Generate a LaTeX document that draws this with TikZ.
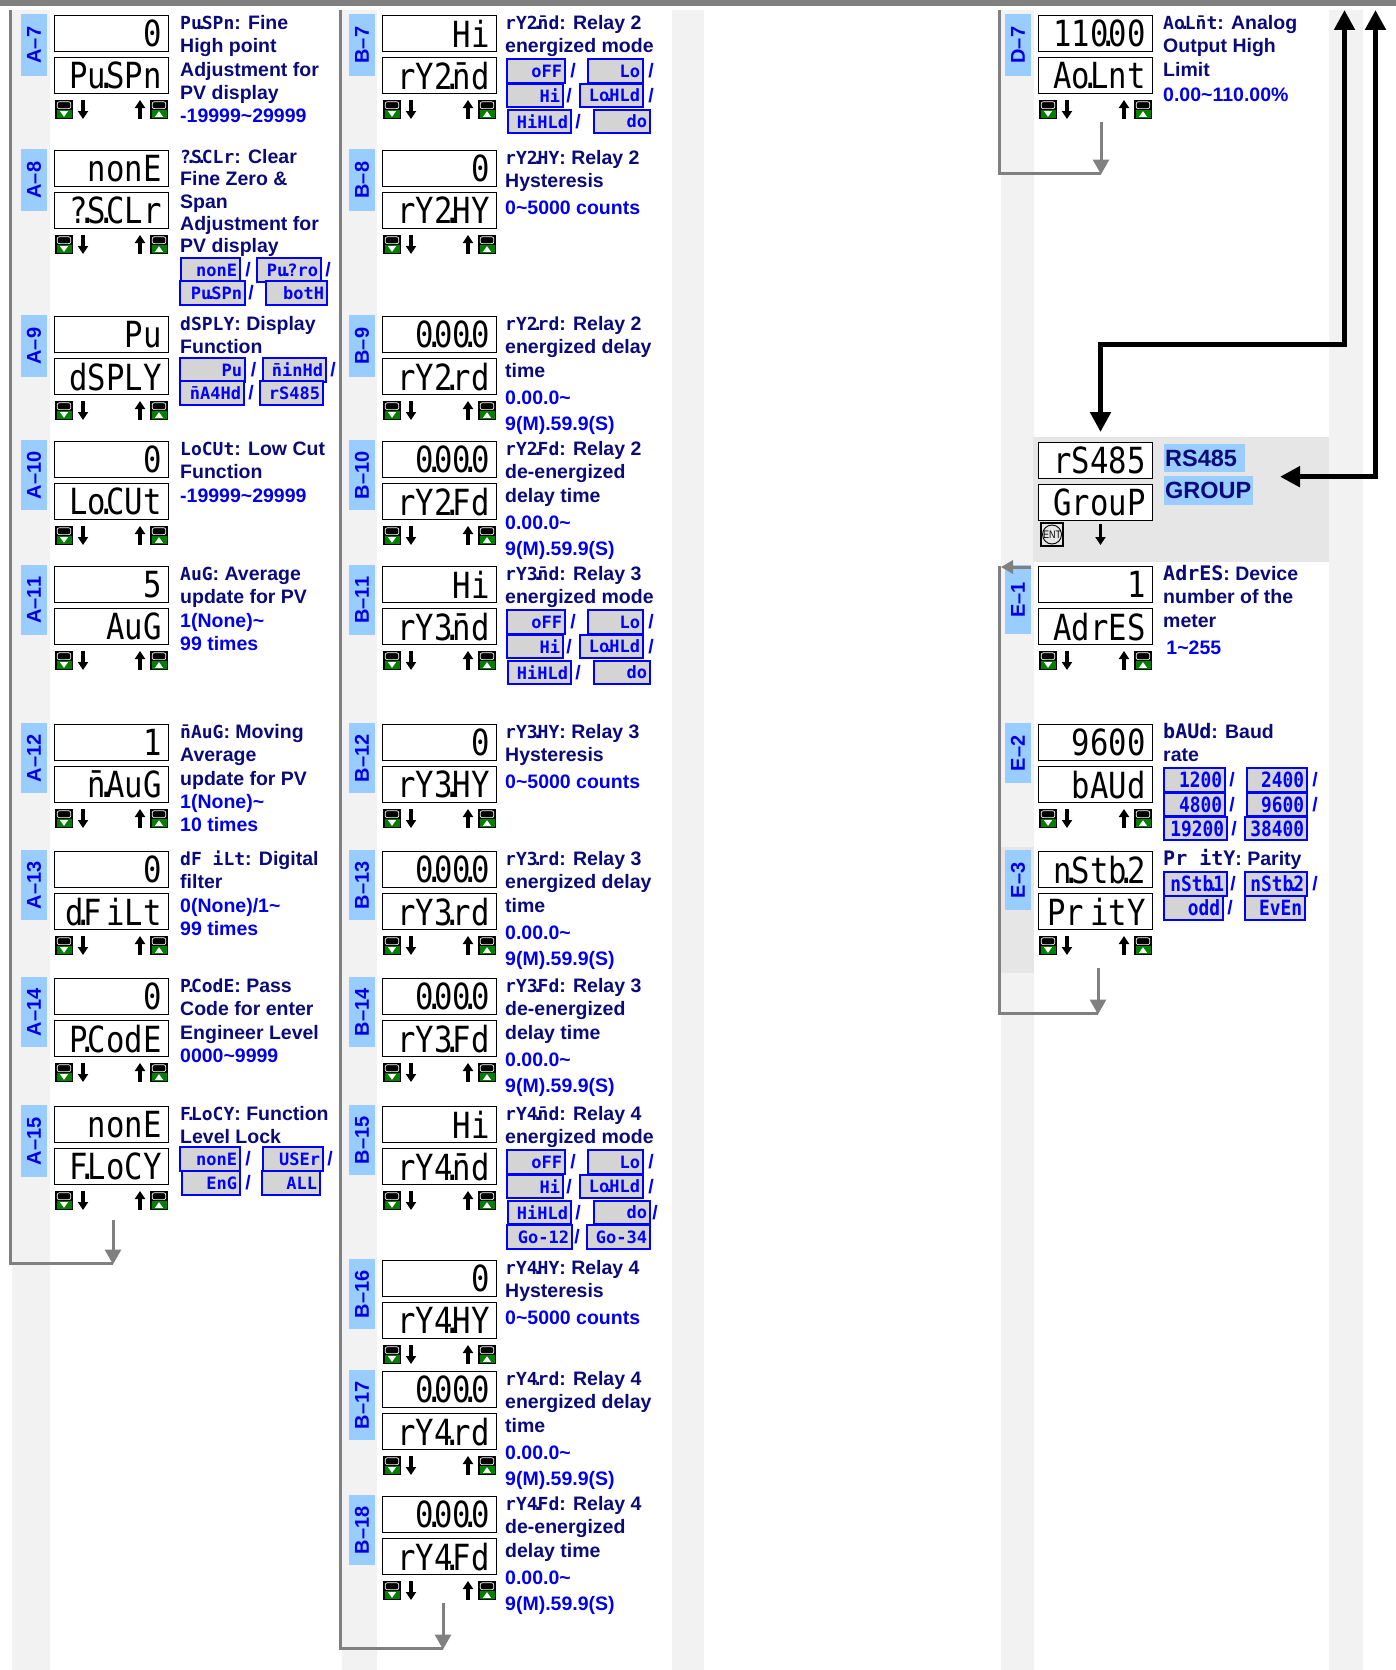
\documentclass[tikz,border=0pt]{standalone}
\usepackage{fontspec}
\setmainfont{Liberation Sans}
\newfontfamily\segfont[FakeStretch=0.85]{DejaVu Sans Mono}
\newfontfamily\segfontb{DejaVu Sans Mono}
\usetikzlibrary{arrows.meta}
\definecolor{titlenavy}{RGB}{10,10,120}
\definecolor{rngblue}{RGB}{0,0,235}
\definecolor{lblblue}{RGB}{153,204,255}
\definecolor{lblink}{RGB}{0,0,230}
\definecolor{stripgray}{RGB}{242,242,242}
\definecolor{grpgray}{RGB}{230,230,230}
\definecolor{loopgray}{RGB}{128,128,128}
\definecolor{optgray}{RGB}{212,212,212}
\definecolor{icongreen}{RGB}{0,128,0}
\newcommand\sd{\makebox[0pt]{.}}
\newcommand\st[1]{{\segfontb\bfseries\fontsize{18}{23.3}\selectfont #1}}
\newcommand\stE[1]{{\segfontb\bfseries\fontsize{20}{23.3}\selectfont #1}}
\newcommand\rg[1]{\textcolor{rngblue}{#1}}
\tikzset{
  disp/.style={draw=black, line width=1.2pt, fill=white, anchor=north west, minimum height=36pt, text width=100pt, inner xsep=7pt, inner ysep=0pt, align=right, font=\segfont\fontsize{36}{36}\selectfont},
  lbl/.style={fill=lblblue, text=lblink, rotate=90, anchor=east, minimum height=26pt, inner sep=1pt, font=\bfseries\fontsize{20}{20}\selectfont},
  desc/.style={anchor=north west, inner sep=0pt, align=left, text=titlenavy, font=\bfseries\fontsize{19.5}{23.3}\selectfont},
  tightdesc/.style={font=\bfseries\fontsize{19.5}{22.2}\selectfont},
  opt/.style={draw=blue, line width=2pt, fill=optgray, anchor=west, minimum height=23.5pt, inner xsep=3pt, inner ysep=0pt, align=right, text=blue, font=\segfontb\bfseries\fontsize{17}{17}\selectfont},
  optE/.style={font=\segfont\bfseries\fontsize{21}{21}\selectfont},
  slash/.style={text=blue, inner sep=0pt, font=\bfseries\fontsize{19.5}{19.5}\selectfont},
  keyarrow/.style={line width=3.2pt, -{Triangle[width=10pt,length=8pt]}},
  loopline/.style={draw=loopgray, line width=3pt, line join=miter},
  looparrow/.style={draw=loopgray, line width=3pt, -{Triangle[width=16pt,length=15pt]}},
  bigline/.style={line width=5pt, line join=miter, {Triangle[width=20pt,length=20pt]}-{Triangle[width=20pt,length=20pt]}},
  grplbl/.style={fill=lblblue, text=titlenavy, anchor=west, inner xsep=1pt, inner ysep=0pt, align=left, font=\bfseries\fontsize{23.5}{23.5}\selectfont},
  dnicon/.pic={
    \fill[black] (0,0) rectangle (18,19);
    \fill[icongreen] (1.5,10) rectangle (16.5,17.5);
    \fill[white] (5,11.2) -- (13,11.2) -- (9,16.8) -- cycle;
    \draw[white, line width=0.7pt, rounded corners=2pt] (2.2,1.8) rectangle (15.8,8.6);
  },
  upicon/.pic={
    \fill[black] (0,0) rectangle (18,19);
    \fill[icongreen] (1.5,10) rectangle (16.5,17.5);
    \fill[white] (5,16.8) -- (13,16.8) -- (9,11.2) -- cycle;
    \draw[white, line width=0.7pt, rounded corners=2pt] (2.2,1.8) rectangle (15.8,8.6);
  }
}
\newcommand\pUnit[7]{%
  \node[lbl, minimum width=#7pt] (#1-l) at ({#2-20},{#3-1}) {#4};
  \node[disp] (#1-t) at (#2,#3) {\vphantom{0}#5};
  \node[disp] (#1-b) at (#2,{#3+42}) {\vphantom{0}#6};
  \pic at ({#2+1},{#3+85}) {dnicon};
  \draw[keyarrow] ({#2+29},{#3+85}) -- ({#2+29},{#3+104});
  \draw[keyarrow] ({#2+86},{#3+104}) -- ({#2+86},{#3+85});
  \pic at ({#2+96},{#3+85}) {upicon};
}
\newcommand\opbox[5]{\node[opt, text width=#4pt] (#1) at (#2,#3) {\vphantom{0}#5};}
\newcommand\opboxE[5]{\node[opt, optE, text width=#4pt] (#1) at (#2,#3) {\vphantom{0}#5};}
\newcommand\slsh[3]{\node[slash] (#1) at (#2,#3) {/};}
\newcommand\dsc[4]{\node[desc] (#1) at (#2,{#3-2}) {\strut #4};}
\newcommand\relaymodes[2]{%
  \opbox{#1o1}{506}{{#2+56}}{52}{oFF}
  \slsh{#1s1}{573}{{#2+56}}
  \opbox{#1o2}{587}{{#2+56}}{49}{Lo}
  \slsh{#1s2}{651}{{#2+56}}
  \opbox{#1o3}{506}{{#2+80.5}}{50}{Hi}
  \slsh{#1s3}{569}{{#2+80.5}}
  \opbox{#1o4}{579}{{#2+80.5}}{57}{Lo\sd HLd}
  \slsh{#1s4}{651}{{#2+80.5}}
  \opbox{#1o5}{507}{{#2+106.5}}{57}{HiHLd}
  \slsh{#1s5}{578}{{#2+106.5}}
  \opbox{#1o6}{593}{{#2+106.5}}{50}{do}
}
\begin{document}
\begin{tikzpicture}[x=1pt,y=-1pt]
\path[use as bounding box] (0,0) rectangle (1396,1670);
% background strips and bar
\fill[stripgray] (12,10) rectangle (50,1670);
\fill[stripgray] (342,10) rectangle (377,1670);
\fill[stripgray] (672,10) rectangle (704,1670);
\fill[stripgray] (1001,10) rectangle (1034,1670);
\fill[stripgray] (1329,10) rectangle (1363,1670);
\fill[grpgray] (1001,847) rectangle (1034,973);
\fill[grpgray] (1033,437) rectangle (1329,562);
\fill[loopgray] (0,0) rectangle (1396,6);

% ---------------- column A
\pUnit{a7}{54}{15}{A–7}{0}{Pu\sd SPn}{62}
\dsc{a7d}{180}{15}{\st{Pu\sd SPn}: Fine\\High point\\Adjustment for\\PV display\\\rg{-19999\textasciitilde 29999}}
\pUnit{a8}{54}{150}{A–8}{nonE}{?\sd S\sd CLr}{62}
\node[desc, tightdesc] (a8d) at (180,148) {\strut\st{?\sd S\sd CLr}: Clear\\Fine Zero \&\\Span\\Adjustment for\\PV display};
\opbox{a8o1}{180}{270}{53}{nonE}
\slsh{a8s1}{248}{270}
\opbox{a8o2}{256}{270}{58}{Pu\sd ?ro}
\slsh{a8s2}{328}{270}
\opbox{a8o3}{179}{293}{59}{Pu\sd SPn}
\slsh{a8s3}{251}{293}
\opbox{a8o4}{265}{293}{55}{botH}
\pUnit{a9}{54}{316}{A–9}{Pu}{dSPLY}{62}
\dsc{a9d}{180}{316}{\st{dSPLY}: Display\\Function}
\opbox{a9o1}{179}{370}{59}{Pu}
\slsh{a9s1}{253.5}{370}
\opbox{a9o2}{262}{370}{57}{n̄inHd}
\slsh{a9s2}{333}{370}
\opbox{a9o3}{179}{393}{58}{n̄A4Hd}
\slsh{a9s3}{251}{393}
\opbox{a9o4}{259}{393}{57}{rS485}
\pUnit{a10}{54}{441}{A–10}{0}{Lo\sd CUt}{70}
\dsc{a10d}{180}{441}{\st{LoCUt}: Low Cut\\Function\\\rg{-19999\textasciitilde 29999}}
\pUnit{a11}{54}{566}{A–11}{5}{AuG}{70}
\dsc{a11d}{180}{566}{\st{AuG}: Average\\update for PV\\\rg{1(None)\textasciitilde}\\\rg{99 times}}
\pUnit{a12}{54}{724}{A–12}{1}{n̄\sd AuG}{70}
\dsc{a12d}{180}{724}{\st{n̄AuG}: Moving\\Average\\update for PV\\\rg{1(None)\textasciitilde}\\\rg{10 times}}
\pUnit{a13}{54}{851}{A–13}{0}{d\sd F\hspace{4pt}iLt}{70}
\dsc{a13d}{180}{851}{\st{dF iLt}: Digital\\filter\\\rg{0(None)/1\textasciitilde}\\\rg{99 times}}
\pUnit{a14}{54}{978}{A–14}{0}{P\sd CodE}{70}
\dsc{a14d}{180}{978}{\st{P\sd CodE}: Pass\\Code for enter\\Engineer Level\\\rg{0000\textasciitilde 9999}}
\pUnit{a15}{54}{1106}{A–15}{nonE}{F\sd LoCY}{72}
\dsc{a15d}{180}{1106}{\st{F\sd LoCY}: Function\\Level Lock}
\opbox{a15o1}{179}{1159}{54}{nonE}
\slsh{a15s1}{248}{1159}
\opbox{a15o2}{262}{1159}{54}{USEr}
\slsh{a15s2}{330}{1159}
\opbox{a15o3}{181}{1183}{52}{EnG}
\slsh{a15s3}{248}{1183}
\opbox{a15o4}{261}{1183}{52}{ALL}

% ---------------- column B
\pUnit{b7}{382}{15}{B–7}{Hi}{rY2\sd n̄d}{62}
\dsc{b7d}{505}{15}{\st{rY2\sd n̄d}: Relay 2\\energized mode}
\relaymodes{b7}{15}
\pUnit{b8}{382}{150}{B–8}{0}{rY2\sd HY}{62}
\dsc{b8d}{505}{150}{\st{rY2\sd HY}: Relay 2\\Hysteresis\\[3pt]\rg{0\textasciitilde 5000 counts}}
\pUnit{b9}{382}{316}{B–9}{0\sd 00\sd 0}{rY2\sd rd}{62}
\dsc{b9d}{505}{316}{\st{rY2\sd rd}: Relay 2\\energized delay\\time\\[4pt]\rg{0.00.0\textasciitilde}\\[2.5pt]\rg{9(M).59.9(S)}}
\pUnit{b10}{382}{441}{B–10}{0\sd 00\sd 0}{rY2\sd Fd}{70}
\dsc{b10d}{505}{441}{\st{rY2\sd Fd}: Relay 2\\de-energized\\delay time\\[4pt]\rg{0.00.0\textasciitilde}\\[2.5pt]\rg{9(M).59.9(S)}}
\pUnit{b11}{382}{566}{B–11}{Hi}{rY3\sd n̄d}{70}
\dsc{b11d}{505}{566}{\st{rY3\sd n̄d}: Relay 3\\energized mode}
\relaymodes{b11}{566}
\pUnit{b12}{382}{724}{B–12}{0}{rY3\sd HY}{70}
\dsc{b12d}{505}{724}{\st{rY3\sd HY}: Relay 3\\Hysteresis\\[3pt]\rg{0\textasciitilde 5000 counts}}
\pUnit{b13}{382}{851}{B–13}{0\sd 00\sd 0}{rY3\sd rd}{70}
\dsc{b13d}{505}{851}{\st{rY3\sd rd}: Relay 3\\energized delay\\time\\[4pt]\rg{0.00.0\textasciitilde}\\[2.5pt]\rg{9(M).59.9(S)}}
\pUnit{b14}{382}{978}{B–14}{0\sd 00\sd 0}{rY3\sd Fd}{70}
\dsc{b14d}{505}{978}{\st{rY3\sd Fd}: Relay 3\\de-energized\\delay time\\[4pt]\rg{0.00.0\textasciitilde}\\[2.5pt]\rg{9(M).59.9(S)}}
\pUnit{b15}{382}{1106}{B–15}{Hi}{rY4\sd n̄d}{70}
\dsc{b15d}{505}{1106}{\st{rY4\sd n̄d}: Relay 4\\energized mode}
\relaymodes{b15}{1106}
\slsh{b15s6}{655}{1212.5}
\opbox{b15o7}{506}{1237}{59}{Go-12}
\slsh{b15s7}{577}{1237}
\opbox{b15o8}{586}{1237}{57}{Go-34}
\pUnit{b16}{382}{1260}{B–16}{0}{rY4\sd HY}{70}
\dsc{b16d}{505}{1260}{\st{rY4\sd HY}: Relay 4\\Hysteresis\\[3pt]\rg{0\textasciitilde 5000 counts}}
\pUnit{b17}{382}{1371}{B–17}{0\sd 00\sd 0}{rY4\sd rd}{70}
\dsc{b17d}{505}{1371}{\st{rY4\sd rd}: Relay 4\\energized delay\\time\\[4pt]\rg{0.00.0\textasciitilde}\\[2.5pt]\rg{9(M).59.9(S)}}
\pUnit{b18}{382}{1496}{B–18}{0\sd 00\sd 0}{rY4\sd Fd}{70}
\dsc{b18d}{505}{1496}{\st{rY4\sd Fd}: Relay 4\\de-energized\\delay time\\[4pt]\rg{0.00.0\textasciitilde}\\[2.5pt]\rg{9(M).59.9(S)}}

% ---------------- column D / E
\pUnit{d7}{1038}{15}{D–7}{110\sd 00}{Ao\sd Lnt}{62}
\dsc{d7d}{1163}{15}{\st{Ao\sd Ln̄t}: Analog\\Output High\\Limit\\[2pt]\rg{0.00\textasciitilde 110.00\%}}

\node[disp] (rs-t) at (1038,442) {\vphantom{0}rS485};
\node[disp] (rs-b) at (1038,484) {\vphantom{0}GrouP};
\node[draw, line width=1.3pt, minimum width=22pt, minimum height=23pt, inner sep=0pt] (ent) at (1052,534.5) {};
\node[circle, draw, line width=0.9pt, minimum size=19pt, inner sep=0pt, font=\fontsize{9.5}{9.5}\selectfont] (entc) at (1052,534.5) {\makebox[13pt]{\resizebox{18pt}{7.5pt}{ENT}}};
\draw[keyarrow] (1100.5,524) -- (1100.5,545);
\node[grplbl, text width=79pt, minimum height=28pt] (grp1) at (1164,458) {RS485};
\node[grplbl, text width=87pt, minimum height=29pt] (grp2) at (1164,490.5) {GROUP};

\pUnit{e1}{1038}{566}{E–1}{1}{AdrES}{69}
\dsc{e1d}{1163}{566}{\stE{AdrES}: Device\\number of the\\meter\\[4pt]\rg{\,1\textasciitilde 255}}
\pUnit{e2}{1038}{724}{E–2}{9600}{bAUd}{60}
\dsc{e2d}{1163}{724}{\stE{bAUd}: Baud\\rate}
\opboxE{e2o1}{1163}{780}{55}{1200}
\slsh{e2s1}{1232}{780}
\opboxE{e2o2}{1246}{780}{54}{2400}
\slsh{e2s2}{1315}{780}
\opboxE{e2o3}{1163}{804.5}{55}{4800}
\slsh{e2s3}{1232}{804.5}
\opboxE{e2o4}{1246}{804.5}{54}{9600}
\slsh{e2s4}{1315}{804.5}
\opboxE{e2o5}{1163}{828.5}{57}{19200}
\slsh{e2s5}{1234}{828.5}
\opboxE{e2o6}{1244}{828.5}{56}{38400}
\pUnit{e3}{1038}{851}{E–3}{n\sd Stb\sd 2}{Pr\hspace{6pt}itY}{60}
\dsc{e3d}{1163}{851}{\stE{Pr itY}: Parity}
\opboxE{e3o1}{1163}{884}{57}{nStb\sd 1}
\slsh{e3s1}{1233}{884}
\opboxE{e3o2}{1244}{884}{56}{nStb\sd 2}
\slsh{e3s2}{1315}{884}
\opboxE{e3o3}{1163}{908}{53}{odd}
\slsh{e3s3}{1230}{908}
\opboxE{e3o4}{1244}{908}{54}{EvEn}

% ---------------- loop connectors
\coordinate (aTop) at (10,10);
\coordinate (aEnd) at (113,1263);
\coordinate (aArr) at (113,1220);
\coordinate (aTip) at (113,1264.5);
\draw[loopline] (aTop) |- (aEnd);
\draw[looparrow] (aArr) -- (aTip);

\coordinate (bTop) at (340,10);
\coordinate (bEnd) at (443,1648);
\coordinate (bArr) at (443,1603);
\coordinate (bTip) at (443,1649.5);
\draw[loopline] (bTop) |- (bEnd);
\draw[looparrow] (bArr) -- (bTip);

\coordinate (dTop) at (999,10);
\coordinate (dEnd) at (1101,173);
\coordinate (dArr) at (1101,122);
\coordinate (dTip) at (1101,174.5);
\draw[loopline] (dTop) |- (dEnd);
\draw[looparrow] (dArr) -- (dTip);

\coordinate (eTop) at (999,566);
\coordinate (eEnd) at (1098,1013);
\coordinate (eArr) at (1098,968);
\coordinate (eTip) at (1098,1014.5);
\coordinate (eIn) at (1031,567);
\coordinate (eInTip) at (1001,567);
\draw[loopline] (eTop) |- (eEnd);
\draw[looparrow, -{Triangle[width=13pt,length=12pt]}] (eIn) -- (eInTip);
\draw[looparrow] (eArr) -- (eTip);

% ---------------- big black connectors
\coordinate (upA) at (1344.5,10);
\coordinate (cornerA) at (1344.5,344.5);
\coordinate (cornerB) at (1100.5,344.5);
\coordinate (rsIn) at (1100.5,432);
\draw[bigline] (rsIn) -- (cornerB) -- (cornerA) -- (upA);
\coordinate (upB) at (1375.5,10);
\coordinate (cornerC) at (1375.5,476.7);
\coordinate (grpIn) at (1280,476.7);
\draw[bigline] (grpIn) -- (cornerC) -- (upB);
\end{tikzpicture}
\end{document}
